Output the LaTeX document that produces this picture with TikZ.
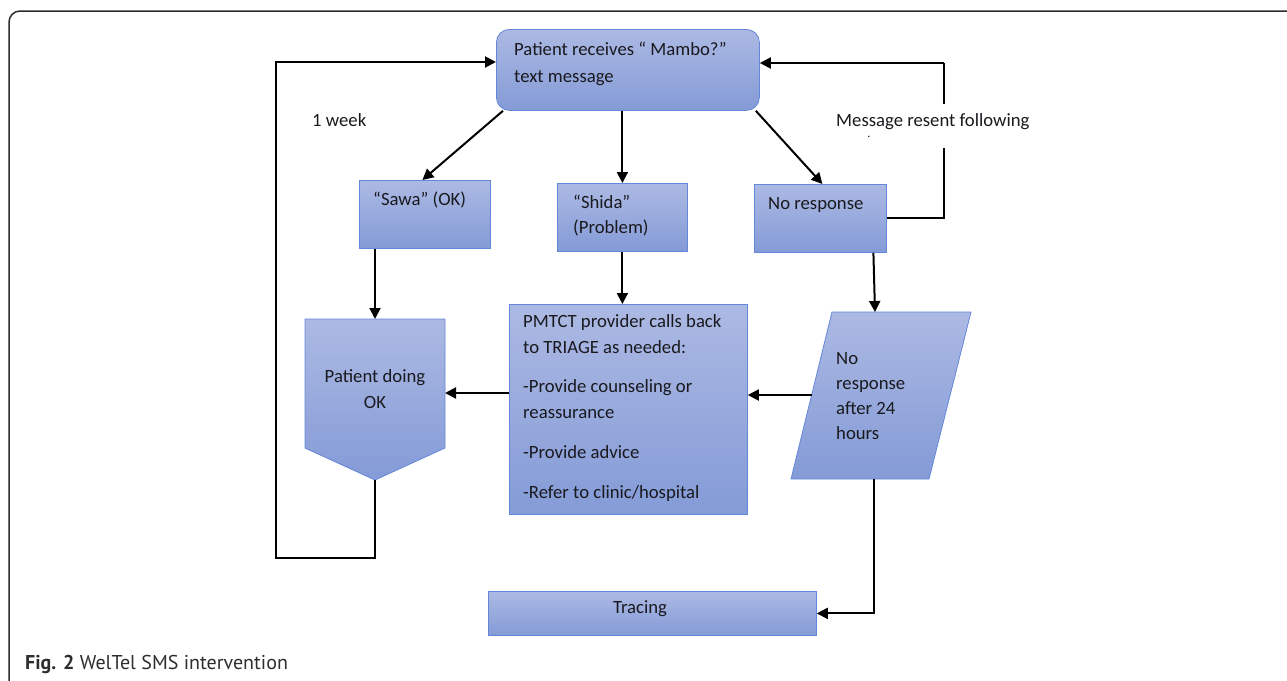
\documentclass[tikz,border=0pt]{standalone}
\usepackage{fontspec}
\setmainfont{Carlito}
\newfontfamily\capfont{PT Sans}
\usetikzlibrary{arrows.meta,calc}
\definecolor{boxtop}{RGB}{172,185,227}
\definecolor{boxbot}{RGB}{132,155,215}
\definecolor{boxline}{RGB}{100,135,215}
\definecolor{textc}{RGB}{25,25,30}
\definecolor{framec}{RGB}{45,45,45}
\begin{document}
\begin{tikzpicture}[x=1pt,y=-1pt,
  box/.style={draw=boxline, line width=0.8pt, top color=boxtop, bottom color=boxbot, inner sep=0pt, anchor=north west},
  boxshape/.style={draw=boxline, line width=0.8pt, top color=boxtop, bottom color=boxbot},
  txt/.style={inner sep=0pt, align=left, text=textc, font=\fontsize{18.7}{26.5}\selectfont},
  arr/.style={line width=2pt, draw=black, -{Triangle[length=11pt,width=11pt]}},
  frame/.style={draw=framec, line width=1.5pt, rounded corners=11pt}]
\useasboundingbox (0,0) rectangle (1287,680);
\draw[frame] (1310,11) -- (9,11) -- (9,692) -- (1310,692);

% boxes
\node[box, rounded corners=13pt, minimum width=263pt, minimum height=81pt] (top) at (496,29) {};
\node[txt, anchor=north west] (topt) at (514,42) {Patient receives “ Mambo?”\\text message};

\node[box, minimum width=131pt, minimum height=68pt] (sawa) at (359,180) {};
\node[txt, anchor=base west] (sawat) at (373,205) {“Sawa” (OK)};

\node[box, minimum width=130pt, minimum height=68pt] (shida) at (557,183) {};
\node[txt, anchor=north west] (shidat) at (573,195) {“Shida”\\[-1.5pt](Problem)};

\node[box, minimum width=132pt, minimum height=68pt] (nores) at (754,184) {};
\node[txt, anchor=base west] (norest) at (768,209) {No response};

\node[box, minimum width=238pt, minimum height=210pt] (pmtct) at (509,304) {};
\node[txt, anchor=north west] (pmtctt) at (523,314) {PMTCT provider calls back\\to TRIAGE as needed:\\[12pt]-Provide counseling or\\reassurance\\[13.5pt]-Provide advice\\[13.5pt]-Refer to clinic/hospital};

\path[boxshape] (305,319) -- (445,319) -- (445,448) -- (375,480) -- (305,448) -- cycle;
\coordinate (okN) at (375,319);
\coordinate (okE) at (445,393);
\coordinate (okS) at (375,480);
\node[txt, align=center, anchor=north, font=\fontsize{18.7}{26}\selectfont] (okt) at (375,369) {Patient doing\\OK};

\path[boxshape] (832,312) -- (971,312) -- (929,479) -- (791,479) -- cycle;
\coordinate (paraN) at (875,312);
\coordinate (paraW) at (811.6,395);
\coordinate (paraS) at (874,479);
\node[txt, anchor=north west, font=\fontsize{18.7}{25}\selectfont] (parat) at (836,352) {No\\response\\after 24\\hours};

\node[box, minimum width=328pt, minimum height=44pt] (trac) at (488,591) {};
\node[txt, anchor=base] (tract) at (640,613) {Tracing};

% connectors
\draw[arr] ([xshift=7pt]top.south west) -- ([xshift=-2.5pt]sawa.north);
\draw[arr] (top.south -| shida.north) -- (shida.north);
\draw[arr] ([xshift=-4pt]top.south east) -- ([xshift=2pt]nores.north);
\coordinate (rs) at (944,63);
\draw[line width=2pt] (nores.east) -| (rs);
\draw[arr] (rs) -- (top.east |- rs);
\draw[arr] (sawa.south -| okN) -- (okN);
\draw[arr] (shida.south) -- (shida.south |- pmtct.north);
\draw[arr] ([xshift=53pt]nores.south) -- (paraN);
\draw[arr] (pmtct.west |- okE) -- (okE);
\draw[arr] (paraW) -- (pmtct.east |- paraW);
\draw[arr] (paraS) |- (trac.east);
\coordinate (lb) at (276,558);
\coordinate (lt) at (276,62);
\draw[arr] (okS) |- (lb) -- (lt) -- (top.west |- lt);

% labels
\node[txt, anchor=base west] (week) at (312,126) {1 week};
\node[txt, anchor=base west, fill=white, text height=22pt, text depth=22pt] (resent) at (836,126) {Message resent following};
\node[txt, font=\fontsize{12}{12}\selectfont] (dot) at (869,137) {.};

% caption
\node[inner sep=0pt, anchor=base west, text=framec, font=\capfont\fontsize{20}{22}\selectfont] (cap) at (25,669) {\textbf{Fig. 2} WelTel SMS intervention};
\end{tikzpicture}
\end{document}
